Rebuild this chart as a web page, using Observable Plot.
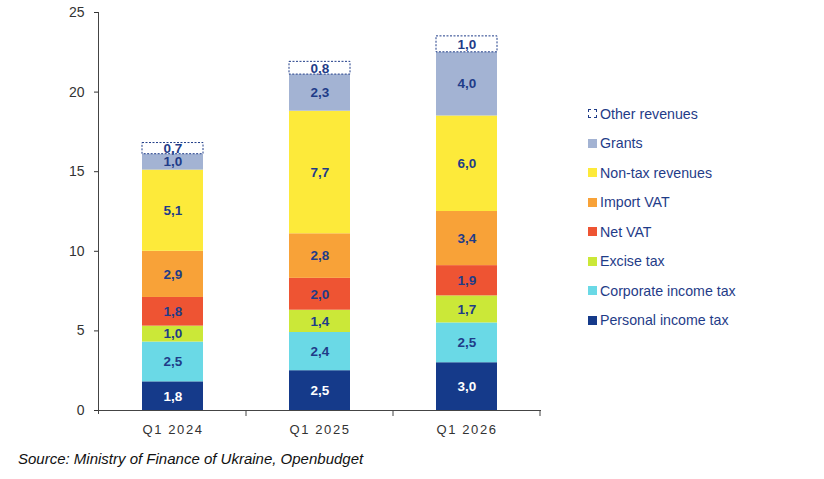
<!DOCTYPE html>
<html>
<head>
<meta charset="utf-8">
<script src="https://cdn.jsdelivr.net/npm/d3@7"></script>
<script src="https://cdn.jsdelivr.net/npm/@observablehq/plot@0.6"></script>
<style>
  html, body { margin: 0; padding: 0; background: #fff; }
  body { font-family: "Liberation Sans", Arial, sans-serif; }
  #wrap { position: relative; width: 824px; height: 479px; }
  #legend { position: absolute; left: 588px; top: 99px; }
  .li { display: flex; align-items: center; height: 29.5px; font-size: 14.2px; color: #1F3C88; }
  .sw { width: 9px; height: 9px; margin-right: 3px; box-sizing: border-box; }
  #caption { position: absolute; left: 18px; top: 450px; font-size: 15px; font-style: italic; color: #111; }
  #chart svg g[aria-label="x-axis tick label"] text { letter-spacing: 1.6px; }
</style>
</head>
<body>
<div id="wrap">
  <div id="chart"></div>
  <div id="legend"></div>
  <div id="caption">Source: Ministry of Finance of Ukraine, Openbudget</div>
</div>
<script>
const categories = ["Q1 2024", "Q1 2025", "Q1 2026"];
const series = ["Personal income tax", "Corporate income tax", "Excise tax", "Net VAT", "Import VAT", "Non-tax revenues", "Grants", "Other revenues"];
const colors = ["#153A8A", "#6AD9E6", "#CBE838", "#EE5433", "#F8A238", "#FDEA3A", "#A3B3D3", "#FFFFFF"];
const personalIncomeTax = [1.8, 2.5, 3.0];
const corporateIncomeTax = [2.5, 2.4, 2.5];
const exciseTax = [1.0, 1.4, 1.7];
const netVAT = [1.8, 2.0, 1.9];
const importVAT = [2.9, 2.8, 3.4];
const nonTaxRevenues = [5.1, 7.7, 6.0];
const grants = [1.0, 2.3, 4.0];
const otherRevenues = [0.7, 0.8, 1.0];
const yTicks = [0, 5, 10, 15, 20, 25];

const seriesValues = [personalIncomeTax, corporateIncomeTax, exciseTax, netVAT, importVAT, nonTaxRevenues, grants, otherRevenues];
const data = [];
series.forEach((s, si) => categories.forEach((c, ci) => data.push({series: s, cat: c, value: seriesValues[si][ci]})));

const fmt = v => d3.format(".1f")(v).replace(".", ",");
const labelColor = "#1F3C88";

// axis lines and boundary ticks drawn from the scales
function axesMark(index, scales, values, dims) {
  const g = d3.create("svg:g").attr("stroke", "#444").attr("stroke-width", 1).attr("fill", "none");
  const x = scales.x, y = scales.y;
  const step = x.step(), bw = x.bandwidth();
  const left = dims.marginLeft, right = dims.width - dims.marginRight;
  const y0 = y(0);
  g.append("line").attr("x1", left + 0.5).attr("x2", left + 0.5).attr("y1", y(25)).attr("y2", y0 + 4);
  const bounds = categories.map(c => x(c) - (step - bw) / 2).concat([x(categories[categories.length - 1]) + bw + (step - bw) / 2]);
  bounds.slice(1).forEach(b => g.append("line").attr("x1", b).attr("x2", b).attr("y1", y0).attr("y2", y0 + 6));
  g.append("line").attr("x1", left).attr("x2", right).attr("y1", y0 + 0.5).attr("y2", y0 + 0.5);
  return g.node();
}

const chart = Plot.plot({
  width: 824,
  height: 445,
  marginLeft: 98,
  marginRight: 283,
  marginTop: 12,
  marginBottom: 35,
  style: {fontFamily: "'Liberation Sans', Arial, sans-serif", fontSize: "12px", color: "#333"},
  x: {domain: categories, paddingInner: 0.585, paddingOuter: 0.2925, label: null},
  y: {domain: [0, 25], label: null},
  color: {domain: series, range: colors},
  marks: [
    Plot.barY(data, Plot.stackY({
      x: "cat", y: "value", z: "series", order: series,
      fill: "series",
      stroke: d => d.series === "Other revenues" ? labelColor : "none",
      strokeDasharray: "2,1.5",
      strokeWidth: 1,
      inset: 0
    })),
    Plot.text(data, Plot.stackY({
      x: "cat", y: "value", z: "series", order: series,
      text: d => fmt(d.value),
      fill: d => d.series === "Personal income tax" ? "#FFFFFF" : labelColor,
      fontWeight: "bold",
      fontSize: 13.5
    })),
    Plot.axisY({ticks: yTicks, tickSize: 4, tickPadding: 10, fontSize: 14, tickFormat: d => d}),
    Plot.axisX({tickSize: 0, tickPadding: 14, fontSize: 13}),
    axesMark
  ]
});
document.getElementById("chart").appendChild(chart);

const legend = document.getElementById("legend");
series.slice().reverse().forEach(s => {
  const i = series.indexOf(s);
  const row = document.createElement("div");
  row.className = "li";
  const sw = document.createElement("div");
  sw.className = "sw";
  sw.style.background = colors[i];
  if (s === "Other revenues") sw.style.border = "1px dashed " + labelColor;
  row.appendChild(sw);
  row.appendChild(document.createTextNode(s));
  legend.appendChild(row);
});
</script>
</body>
</html>
